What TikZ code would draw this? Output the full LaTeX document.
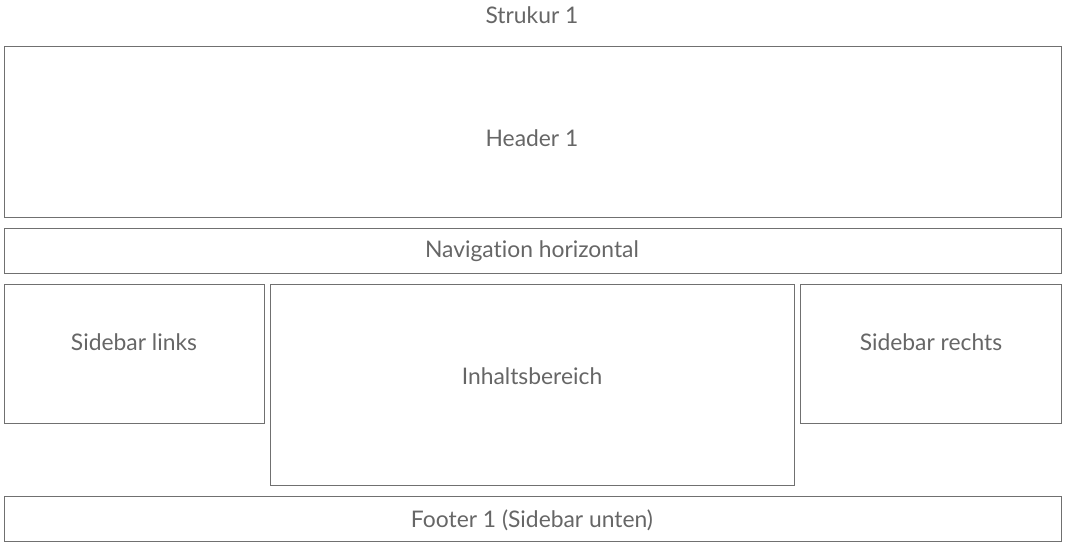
\documentclass[tikz,border=0pt]{standalone}
\usepackage{fontspec}
\setmainfont{Lato}[Ligatures={NoCommon}]
\definecolor{linegray}{HTML}{707070}
\definecolor{textgray}{HTML}{666666}
\begin{document}
\begin{tikzpicture}[x=0.02cm,y=-0.02cm]
\tikzstyle{box}=[draw=linegray, line width=0.5pt]
\tikzstyle{lbl}=[text=textgray, inner sep=0pt, font=\fontsize{13}{15}\selectfont]
\useasboundingbox (0,0) rectangle (1068,548);
% title
\node[lbl] (title) at (532,15) {Strukur 1};
% rows
\draw[box] (4,46) rectangle (1061,217);
\node[lbl] (header) at (532,138) {Header 1};
\draw[box] (4,228) rectangle (1061,273);
\node[lbl] (nav) at (532,251) {Navigation horizontal};
\draw[box] (4,284) rectangle (264,423);
\node[lbl] (left) at (134,342) {Sidebar links};
\draw[box] (270,284) rectangle (794,485);
\node[lbl] (content) at (532,376) {Inhaltsbereich};
\draw[box] (800,284) rectangle (1061,423);
\node[lbl] (right) at (931,342) {Sidebar rechts};
\draw[box] (4,496) rectangle (1061,541);
\node[lbl] (footer) at (532,520) {Footer 1 (Sidebar unten)};
\end{tikzpicture}
\end{document}
